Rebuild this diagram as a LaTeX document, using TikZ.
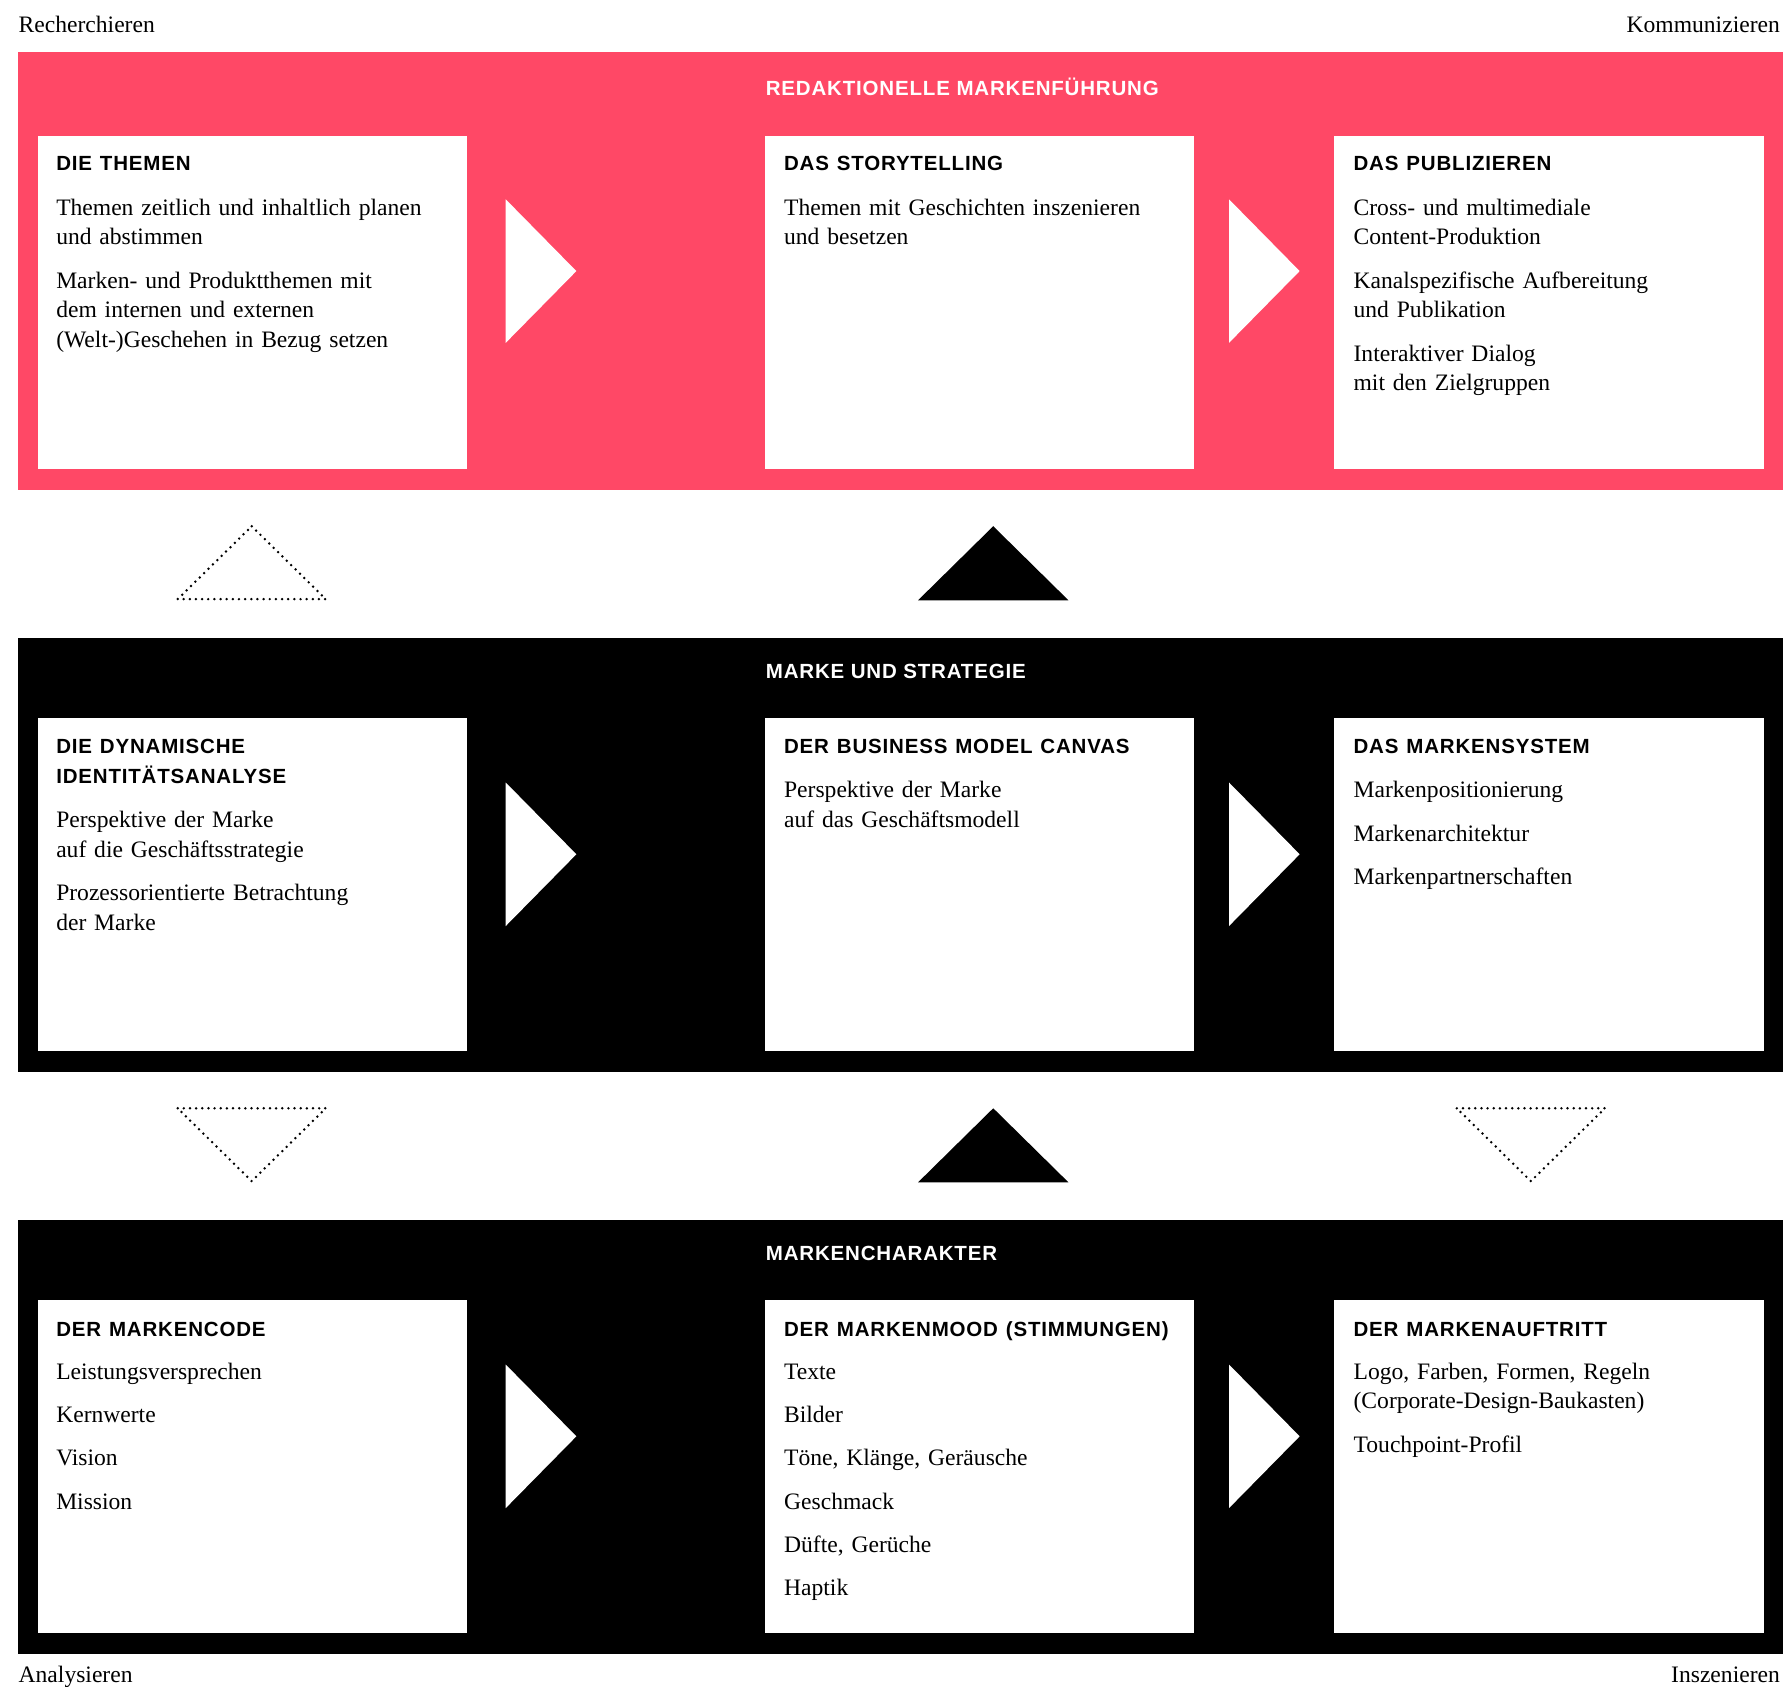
\documentclass[tikz,border=0pt]{standalone}
\usepackage{fontspec}
\setmainfont{Liberation Serif}
\newfontfamily\hfam{Liberation Sans}[LetterSpace=4.0]
\definecolor{brandred}{RGB}{255,72,102}
\newcommand\hd{\fontsize{9}{13}\selectfont\hfam\bfseries}
\newcommand\bd{\fontsize{10.35}{13}\selectfont}
\begin{document}
\begin{tikzpicture}[x=0.5pt,y=-0.5pt,
  boxtext/.style={anchor=base west, inner sep=0pt, text width=210pt, align=left, font=\bd},
  bandtitle/.style={anchor=base west, inner sep=0pt, text=white, font=\hd},
  sidelabel/.style={inner sep=0pt, font=\bd},
  whitebox/.style={fill=white},
  arrowtri/.style={fill=white},
  dottri/.style={draw=black, line width=1.2pt, line cap=round, line join=round, dash pattern=on 0pt off 2.7pt},
  soltri/.style={fill=black}]
\useasboundingbox (0,0) rectangle (1568,1481);
\fill[white] (0,0) rectangle (1568,1481);

% side labels
\node[sidelabel, anchor=base west] (lrech) at (16,28.5) {Recherchieren};
\node[sidelabel, anchor=base east] (lkomm) at (1563,28.5) {Kommunizieren};
\node[sidelabel, anchor=base west] (lanal) at (16,1477) {Analysieren};
\node[sidelabel, anchor=base east] (linsz) at (1563,1477) {Inszenieren};

% ---------- band 1 ----------
\fill[brandred] (16,46) rectangle (1565,430);
\node[bandtitle] (t1) at (672,83.5) {REDAKTIONELLE MARKENFÜHRUNG};
\fill[whitebox] (33,119) rectangle (410,412);
\fill[whitebox] (672,119) rectangle (1048,412);
\fill[whitebox] (1171,119) rectangle (1549,412);
\fill[arrowtri] (444,175) -- (506,238) -- (444,301) -- cycle;
\fill[arrowtri] (1079,175) -- (1141,238) -- (1079,301) -- cycle;
\node[boxtext] (b11) at (49,150) {{\hd DIE THEMEN}\\[6.5pt]
  Themen zeitlich und inhaltlich planen\\ und abstimmen\\[6pt]
  Marken- und Produktthemen mit\\ dem internen und externen\\ (Welt-)Geschehen in Bezug setzen};
\node[boxtext] (b12) at (688,150) {{\hd DAS STORYTELLING}\\[6.5pt]
  Themen mit Geschichten inszenieren\\ und besetzen};
\node[boxtext] (b13) at (1188,150) {{\hd DAS PUBLIZIEREN}\\[6.5pt]
  Cross- und multimediale\\ Content-Produktion\\[6pt]
  Kanalspezifische Aufbereitung\\ und Publikation\\[6pt]
  Interaktiver Dialog\\ mit den Zielgruppen};

% triangles between band 1 and 2
\draw[dottri] (221,462) -- (286,526) -- (156,526) -- cycle;
\fill[soltri] (872,462) -- (938,527) -- (806,527) -- cycle;

% ---------- band 2 ----------
\fill[black] (16,560) rectangle (1565,941);
\node[bandtitle] (t2) at (672,595.5) {MARKE UND STRATEGIE};
\fill[whitebox] (33,630) rectangle (410,923);
\fill[whitebox] (672,630) rectangle (1048,923);
\fill[whitebox] (1171,630) rectangle (1549,923);
\fill[arrowtri] (444,687) -- (506,750) -- (444,813) -- cycle;
\fill[arrowtri] (1079,687) -- (1141,750) -- (1079,813) -- cycle;
\node[boxtext] (b21) at (49,661.5) {{\hd DIE DYNAMISCHE}\\{\hd IDENTITÄTSANALYSE}\\[6.5pt]
  Perspektive der Marke\\ auf die Geschäftsstrategie\\[6pt]
  Prozessorientierte Betrachtung\\ der Marke};
\node[boxtext] (b22) at (688,661.5) {{\hd DER BUSINESS MODEL CANVAS}\\[6.5pt]
  Perspektive der Marke\\ auf das Geschäftsmodell};
\node[boxtext] (b23) at (1188,661.5) {{\hd DAS MARKENSYSTEM}\\[6.5pt]
  Markenpositionierung\\[6pt]
  Markenarchitektur\\[6pt]
  Markenpartnerschaften};

% triangles between band 2 and 3
\draw[dottri] (156,973) -- (286,973) -- (221,1037) -- cycle;
\fill[soltri] (872,973) -- (938,1038) -- (806,1038) -- cycle;
\draw[dottri] (1279,973) -- (1409,973) -- (1344,1037) -- cycle;

% ---------- band 3 ----------
\fill[black] (16,1071) rectangle (1565,1452);
\node[bandtitle] (t3) at (672,1107) {MARKENCHARAKTER};
\fill[whitebox] (33,1141) rectangle (410,1434);
\fill[whitebox] (672,1141) rectangle (1048,1434);
\fill[whitebox] (1171,1141) rectangle (1549,1434);
\fill[arrowtri] (444,1198) -- (506,1261) -- (444,1324) -- cycle;
\fill[arrowtri] (1079,1198) -- (1141,1261) -- (1079,1324) -- cycle;
\node[boxtext] (b31) at (49,1173) {{\hd DER MARKENCODE}\\[6pt]
  Leistungsversprechen\\[6pt]
  Kernwerte\\[6pt]
  Vision\\[6pt]
  Mission};
\node[boxtext] (b32) at (688,1173) {{\hd DER MARKENMOOD (STIMMUNGEN)}\\[6pt]
  Texte\\[6pt]
  Bilder\\[6pt]
  Töne, Klänge, Geräusche\\[6pt]
  Geschmack\\[6pt]
  Düfte, Gerüche\\[6pt]
  Haptik};
\node[boxtext] (b33) at (1188,1173) {{\hd DER MARKENAUFTRITT}\\[6pt]
  Logo, Farben, Formen, Regeln\\ (Corporate-Design-Baukasten)\\[6pt]
  Touchpoint-Profil};
\end{tikzpicture}
\end{document}
